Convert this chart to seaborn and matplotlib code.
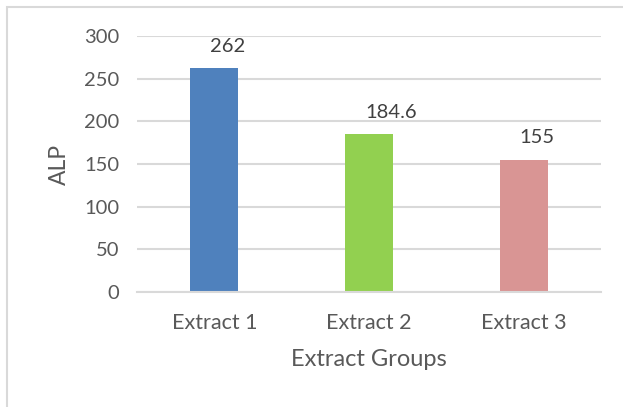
#!/usr/bin/env python3
"""Bar chart of ALP per extract group."""

import matplotlib
matplotlib.use("Agg")
import matplotlib.pyplot as plt
from matplotlib.patches import Rectangle
import pandas as pd
import seaborn as sns

groups = ["Extract 1", "Extract 2", "Extract 3"]
alp = [262, 184.6, 155]
value_labels = ["262", "184.6", "155"]
colors = ["#4F81BD", "#92D050", "#D99594"]
y_ticks = [0, 50, 100, 150, 200, 250, 300]

TEXT = "#595959"
GRID = "#D9D9D9"


def main():
    sns.set_theme(style="white")
    plt.rcParams["font.family"] = ["Lato", "DejaVu Sans"]

    df = pd.DataFrame({"group": groups, "alp": alp})

    fig = plt.figure(figsize=(6.23, 4.07), dpi=100)
    ax = fig.add_axes([0.22, 0.2826, 0.745, 0.629])

    sns.barplot(data=df, x="group", y="alp", hue="group", palette=colors,
                width=0.31, legend=False, ax=ax, saturation=1, linewidth=0)

    ax.set_ylim(0, 300)
    ax.set_xlim(-0.5, 2.5)
    ax.set_yticks(y_ticks)
    ax.set_yticklabels([str(t) for t in y_ticks])
    ax.yaxis.grid(True, color=GRID, linewidth=1.5)
    ax.set_axisbelow(True)
    for side in ["top", "right", "left"]:
        ax.spines[side].set_visible(False)
    ax.spines["bottom"].set_color(GRID)
    ax.spines["bottom"].set_linewidth(1.5)
    ax.tick_params(axis="both", length=0, colors=TEXT)
    ax.tick_params(axis="y", pad=13, labelsize=14.5)
    ax.tick_params(axis="x", pad=15, labelsize=15.5)

    ax.set_xlabel("Extract Groups", fontsize=17, color=TEXT, labelpad=12)
    ax.set_ylabel("ALP", fontsize=16.5, color=TEXT, labelpad=10)

    for i, (v, lab) in enumerate(zip(alp, value_labels)):
        ax.annotate(lab, xy=(i, v), xytext=(-3, 10), textcoords="offset points",
                    ha="left", va="bottom", fontsize=14.5, color="#404040")

    # light chart-area border (left and top visible)
    fig.patches.append(Rectangle((7 / 623, -0.1), 1.2, 1 - 7 / 407 + 0.1,
                                 transform=fig.transFigure, fill=False,
                                 edgecolor="#D9D9D9", linewidth=1.5))

    fig.savefig("out.png", dpi=100)
    plt.close(fig)


if __name__ == "__main__":
    main()
